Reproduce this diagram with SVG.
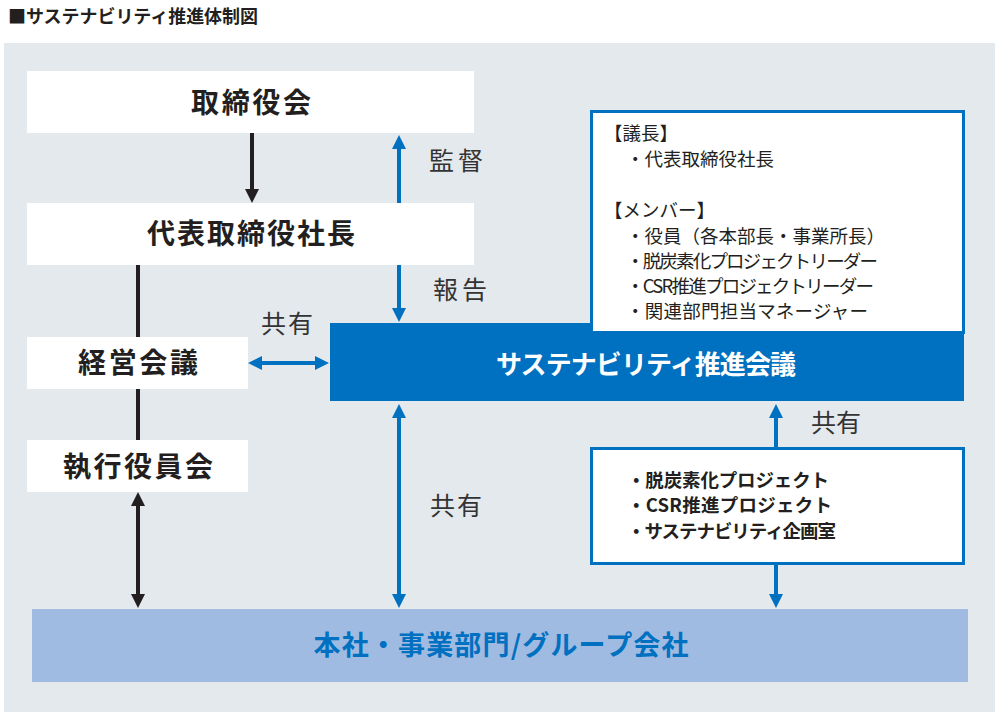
<svg xmlns="http://www.w3.org/2000/svg" width="1000" height="722" viewBox="0 0 1000 722">
<style>
text{font-family:"Noto Sans CJK JP","Noto Sans",sans-serif}
.node{fill:#ffffff}
.ttl{font-size:28px;font-weight:bold;fill:#231f20;text-anchor:middle}
.lbl{font-size:25px;fill:#333333;text-anchor:middle}
.mem{font-size:18.5px;fill:#231f20}
.prj{font-size:18.5px;font-weight:bold;fill:#231f20}
.frame{fill:#ffffff;stroke:#0070c0;stroke-width:3}
.bl{stroke:#0070c0;stroke-width:4;fill:none}
.bk{stroke:#231f20;stroke-width:4;fill:none}
</style>
<defs>
<marker id="ab" viewBox="0 0 14 14" refX="4" refY="7" markerWidth="14" markerHeight="14" markerUnits="userSpaceOnUse" orient="auto-start-reverse"><path d="M0,0 L14,7 L0,14 z" fill="#0070c0"/></marker>
<marker id="ak" viewBox="0 0 14 14" refX="4" refY="7" markerWidth="14" markerHeight="14" markerUnits="userSpaceOnUse" orient="auto-start-reverse"><path d="M0,0 L14,7 L0,14 z" fill="#231f20"/></marker>
</defs>
<text x="8" y="23" font-size="18" font-weight="bold" fill="#231f20" textLength="250">■サステナビリティ推進体制図</text>
<rect x="4" y="43" width="991" height="669" fill="#e4e9ee"/>
<g id="connectors">
<line class="bk" x1="252" y1="133" x2="252" y2="193" marker-end="url(#ak)"/>
<line class="bk" x1="138" y1="265" x2="138" y2="337"/>
<line class="bk" x1="138" y1="389" x2="138" y2="440"/>
<line class="bk" x1="138" y1="502" x2="138" y2="598" marker-start="url(#ak)" marker-end="url(#ak)"/>
<line class="bl" x1="399" y1="204" x2="399" y2="145" marker-end="url(#ab)"/>
<line class="bl" x1="399" y1="265" x2="399" y2="312" marker-end="url(#ab)"/>
<line class="bl" x1="258" y1="363" x2="319" y2="363" marker-start="url(#ab)" marker-end="url(#ab)"/>
<line class="bl" x1="399" y1="414" x2="399" y2="598" marker-start="url(#ab)" marker-end="url(#ab)"/>
<line class="bl" x1="776" y1="448" x2="776" y2="414" marker-end="url(#ab)"/>
<line class="bl" x1="776" y1="564" x2="776" y2="598" marker-end="url(#ab)"/>
<text class="lbl" x="456" y="170" textLength="54">監督</text>
<text class="lbl" x="460" y="299" textLength="54">報告</text>
<text class="lbl" x="287" y="333" textLength="52">共有</text>
<text class="lbl" x="456" y="515" textLength="52">共有</text>
<text class="lbl" x="836" y="432" textLength="50">共有</text>
</g>
<g id="board">
<rect class="node" x="27" y="71" width="447" height="62"/>
<text class="ttl" x="251" y="113" textLength="120">取締役会</text>
</g>
<g id="president">
<rect class="node" x="27" y="203" width="447" height="62"/>
<text class="ttl" x="251" y="244" textLength="208">代表取締役社長</text>
</g>
<g id="management">
<rect class="node" x="27" y="337" width="221" height="52"/>
<text class="ttl" x="138" y="373" textLength="120">経営会議</text>
</g>
<g id="executive">
<rect class="node" x="27" y="440" width="221" height="52"/>
<text class="ttl" x="138" y="477" textLength="150">執行役員会</text>
</g>
<g id="council">
<rect x="330" y="323" width="634" height="78" fill="#0070c0"/>
<text class="ttl" x="646" y="374" style="fill:#ffffff;font-size:26px" textLength="300">サステナビリティ推進会議</text>
</g>
<g id="members">
<rect class="frame" x="591.5" y="111.5" width="372" height="221"/>
<text class="mem" x="604" y="140">【議長】</text>
<text class="mem" x="626" y="166">・代表取締役社長</text>
<text class="mem" x="604" y="217">【メンバー】</text>
<text class="mem" x="626" y="243">・役員（各本部長・事業所長）</text>
<text class="mem" x="626" y="268" textLength="252">・脱炭素化プロジェクトリーダー</text>
<text class="mem" x="626" y="293" textLength="248">・CSR推進プロジェクトリーダー</text>
<text class="mem" x="626" y="318" textLength="242">・関連部門担当マネージャー</text>
</g>
<g id="projects">
<rect class="frame" x="591.5" y="448.5" width="372" height="115"/>
<text class="prj" x="627" y="487" textLength="202">・脱炭素化プロジェクト</text>
<text class="prj" x="627" y="512" textLength="205">・CSR推進プロジェクト</text>
<text class="prj" x="627" y="538" textLength="209">・サステナビリティ企画室</text>
</g>
<g id="groups">
<rect x="32" y="609" width="936" height="73" fill="#9fbbe2"/>
<text class="ttl" x="501" y="655" style="fill:#0070c0;font-size:27px" textLength="375">本社・事業部門/グループ会社</text>
</g>
</svg>
